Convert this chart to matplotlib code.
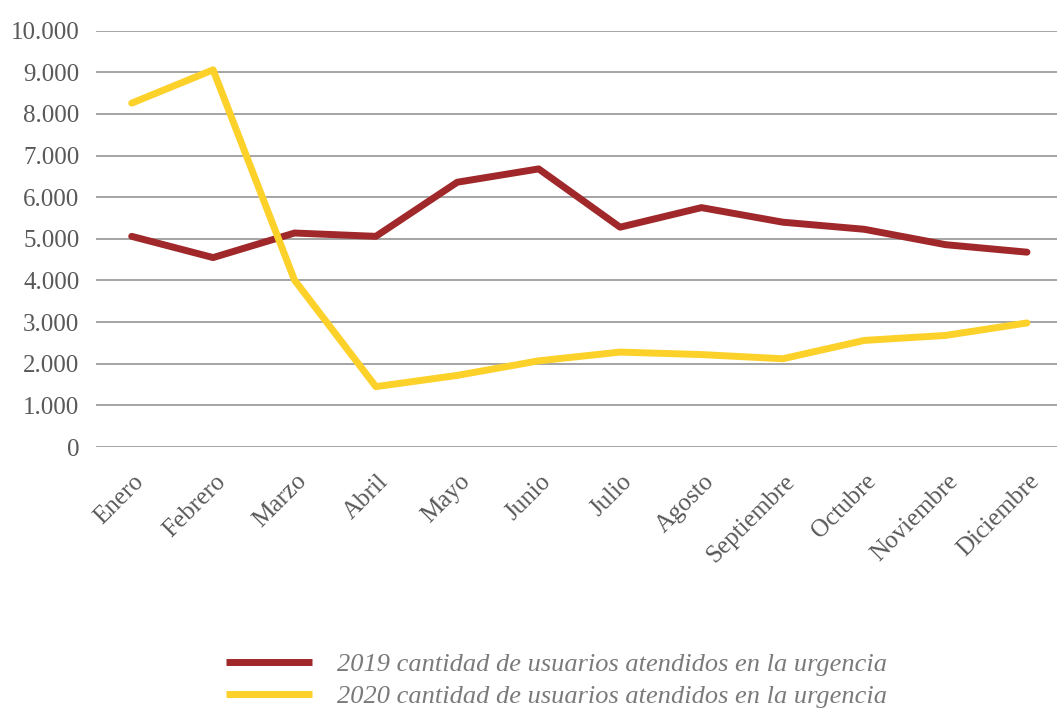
import matplotlib
matplotlib.use("Agg")
import matplotlib.pyplot as plt
from matplotlib.ticker import FuncFormatter
from matplotlib.transforms import ScaledTranslation

meses = ["Enero", "Febrero", "Marzo", "Abril", "Mayo", "Junio", "Julio",
         "Agosto", "Septiembre", "Octubre", "Noviembre", "Diciembre"]
usuarios_2019 = [5060, 4550, 5140, 5060, 6360, 6680, 5280, 5750, 5400, 5230, 4860, 4680]
usuarios_2020 = [8260, 9060, 4010, 1450, 1720, 2070, 2280, 2220, 2120, 2560, 2680, 2980]

label_2019 = "2019 cantidad de usuarios atendidos en la urgencia"
label_2020 = "2020 cantidad de usuarios atendidos en la urgencia"

RED = "#A0282A"
YELLOW = "#FCD12A"
TEXT = "#595959"

plt.rcParams["font.family"] = ["Liberation Serif", "DejaVu Serif"]

W, H = 1057, 708
fig = plt.figure(figsize=(W / 100, H / 100), dpi=100)
ax = fig.add_axes([96 / W, (H - 447) / H, (W - 96) / W, (447 - 30.7) / H])

x = list(range(len(meses)))
ax.plot(x, usuarios_2019, color=RED, linewidth=5, solid_capstyle="round", label=label_2019, zorder=3)
ax.plot(x, usuarios_2020, color=YELLOW, linewidth=5, solid_capstyle="round", label=label_2020, zorder=3)

step = (1027 - 131.7) / 11
ax.set_xlim((96 - 131.7) / step, (W - 131.7) / step)
ax.set_ylim(0, 10000)
ax.set_yticks(range(0, 10001, 1000))
ax.yaxis.set_major_formatter(FuncFormatter(lambda v, p: f"{int(v):,}".replace(",", ".")))
ax.grid(True, axis="y", color="#8c8c8c", linewidth=1.1)
ax.set_axisbelow(True)
for s in ax.spines.values():
    s.set_visible(False)

ax.tick_params(axis="y", length=0, pad=12, labelsize=18, labelcolor=TEXT)
ax.set_xticks(x)
ax.set_xticklabels(meses, rotation=45, ha="right", va="center", rotation_mode="anchor")
ax.tick_params(axis="x", length=0, pad=0, labelsize=18, labelcolor=TEXT)
off = ScaledTranslation(9 / 100, -31 / 100, fig.dpi_scale_trans)
for lab in ax.get_xticklabels():
    lab.set_transform(lab.get_transform() + off)

leg = fig.legend(loc="upper left", bbox_to_anchor=(226 / W, (H - 653) / H), frameon=False,
                 prop={"size": 19, "style": "italic"}, handlelength=3.26, handletextpad=0.95,
                 labelspacing=0.3, borderaxespad=0, borderpad=0)
for t in leg.get_texts():
    t.set_color("#7a7a7a")
for l in leg.get_lines():
    l.set_linewidth(5)
    l.set_solid_capstyle("butt")

fig.savefig("out.png", dpi=100)
